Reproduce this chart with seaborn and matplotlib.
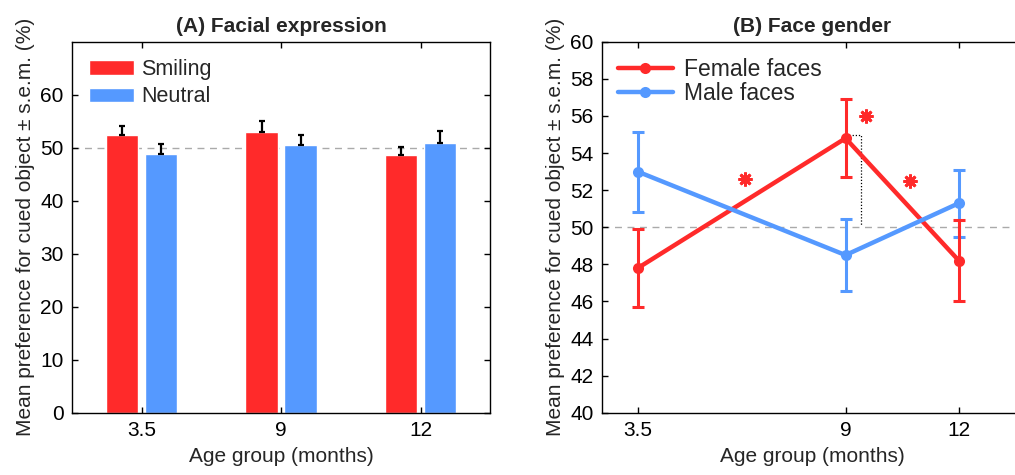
import numpy as np
import pandas as pd
import matplotlib
matplotlib.use("Agg")
import matplotlib.pyplot as plt
import seaborn as sns

# Panel A: facial expression (bars, upper s.e.m. only)
ages_a = ["3.5", "9", "12"]
smiling = [52.4, 52.9, 48.6]
smiling_sem = [1.8, 2.1, 1.6]
neutral = [48.8, 50.5, 50.9]
neutral_sem = [1.9, 1.9, 2.3]

# Panel B: face gender (lines)
ages_b = [3.5, 9, 12]
female = [47.8, 54.8, 48.2]
female_sem = [2.1, 2.1, 2.2]
male = [53.0, 48.5, 51.3]
male_sem = [2.15, 1.95, 1.8]

# significance stars (x, y) in panel B
stars_x = [6.35, 9.55, 10.7]
stars_y = [52.6, 56.0, 52.5]

RED = "#ff2a2a"
BLUE = "#5599ff"

sns.set_theme(style="white")
plt.rcParams["font.family"] = ["Liberation Sans", "DejaVu Sans"]
plt.rcParams["axes.linewidth"] = 1.0

fig = plt.figure(figsize=(10.15, 4.75), dpi=100)
ax1 = fig.add_axes([0.071, 0.131, 0.412, 0.781])
ax2 = fig.add_axes([0.593, 0.131, 0.415, 0.781])

# ---- (A) ----
df_a = pd.DataFrame({
    "age": ages_a * 2,
    "cond": ["Smiling"] * 3 + ["Neutral"] * 3,
    "val": smiling + neutral,
})
sns.barplot(data=df_a, x="age", y="val", hue="cond", order=ages_a,
            hue_order=["Smiling", "Neutral"], palette=[RED, BLUE],
            width=0.56, gap=0.17, errorbar=None, saturation=1, ax=ax1)

bars = ax1.patches[:6]
sems = smiling_sem + neutral_sem
vals = smiling + neutral
for b, v, s in zip(bars, vals, sems):
    xc = b.get_x() + b.get_width() / 2
    ax1.errorbar(xc, v, yerr=[[0], [s]], color="black", lw=1.6,
                 capsize=2.5, capthick=1.6, fmt="none")

ax1.axhline(50, color="#aaaaaa", ls=(0, (5, 4)), lw=1, zorder=0)
ax1.set_xlim(-0.5, 2.5)
ax1.set_ylim(0, 70)
ax1.set_yticks(range(0, 70, 10))
ax1.set_title("(A) Facial expression", fontsize=15, fontweight="bold", pad=7)
ax1.set_xlabel("Age group (months)", fontsize=15, labelpad=5)
ax1.set_ylabel("Mean preference for cued object ± s.e.m. (%)", fontsize=15,
               labelpad=4)
ax1.legend(loc="upper left", frameon=False, fontsize=15.5,
           handlelength=2.1, handleheight=0.65, borderaxespad=0.5,
           borderpad=0.3, labelspacing=0.3, handletextpad=0.3)

# ---- (B) ----
df_b = pd.DataFrame({
    "age": ages_b * 2,
    "gender": ["Female faces"] * 3 + ["Male faces"] * 3,
    "val": female + male,
})
sns.lineplot(data=df_b, x="age", y="val", hue="gender",
             hue_order=["Female faces", "Male faces"], palette=[RED, BLUE],
             marker="o", markersize=8, markeredgewidth=0, lw=3.2,
             errorbar=None, ax=ax2, zorder=3)
ax2.errorbar(ages_b, female, yerr=female_sem, fmt="none", ecolor=RED,
             lw=2.2, capsize=4, capthick=2.2, zorder=4)
ax2.errorbar(ages_b, male, yerr=male_sem, fmt="none", ecolor=BLUE,
             lw=2.2, capsize=4, capthick=2.2, zorder=2)

ax2.plot(stars_x, stars_y, ls="none", marker=(8, 2, 0), markersize=10,
         mew=2.0, color=RED, zorder=5)

# bracket from the 9-month point
ax2.plot([9.1, 9.4, 9.4], [54.95, 54.95, 50.1], color="black",
         ls=(0, (1, 1.5)), lw=0.9, zorder=1)

ax2.axhline(50, color="#aaaaaa", ls=(0, (5, 4)), lw=1, zorder=0)
ax2.set_xlim(2.55, 13.7)
ax2.set_ylim(40, 60)
ax2.set_xticks(ages_b)
ax2.set_xticklabels(["3.5", "9", "12"])
ax2.set_yticks(range(40, 61, 2))
ax2.set_title("(B) Face gender", fontsize=15, fontweight="bold", pad=7)
ax2.set_xlabel("Age group (months)", fontsize=15, labelpad=5)
ax2.set_ylabel("Mean preference for cued object ± s.e.m. (%)", fontsize=15,
               labelpad=4)
ax2.legend(loc="upper left", frameon=False, fontsize=16.5, handlelength=2.4,
           borderaxespad=0.3, labelspacing=0.05, handletextpad=0.5)

for ax in (ax1, ax2):
    for sp in ax.spines.values():
        sp.set_visible(True)
        sp.set_color("black")
    ax.tick_params(direction="in", length=4, width=1, labelsize=15,
                   top=True, right=True, bottom=True, left=True, colors="black")
    ax.tick_params(axis="both", pad=6)

fig.savefig("out.png", dpi=100)
